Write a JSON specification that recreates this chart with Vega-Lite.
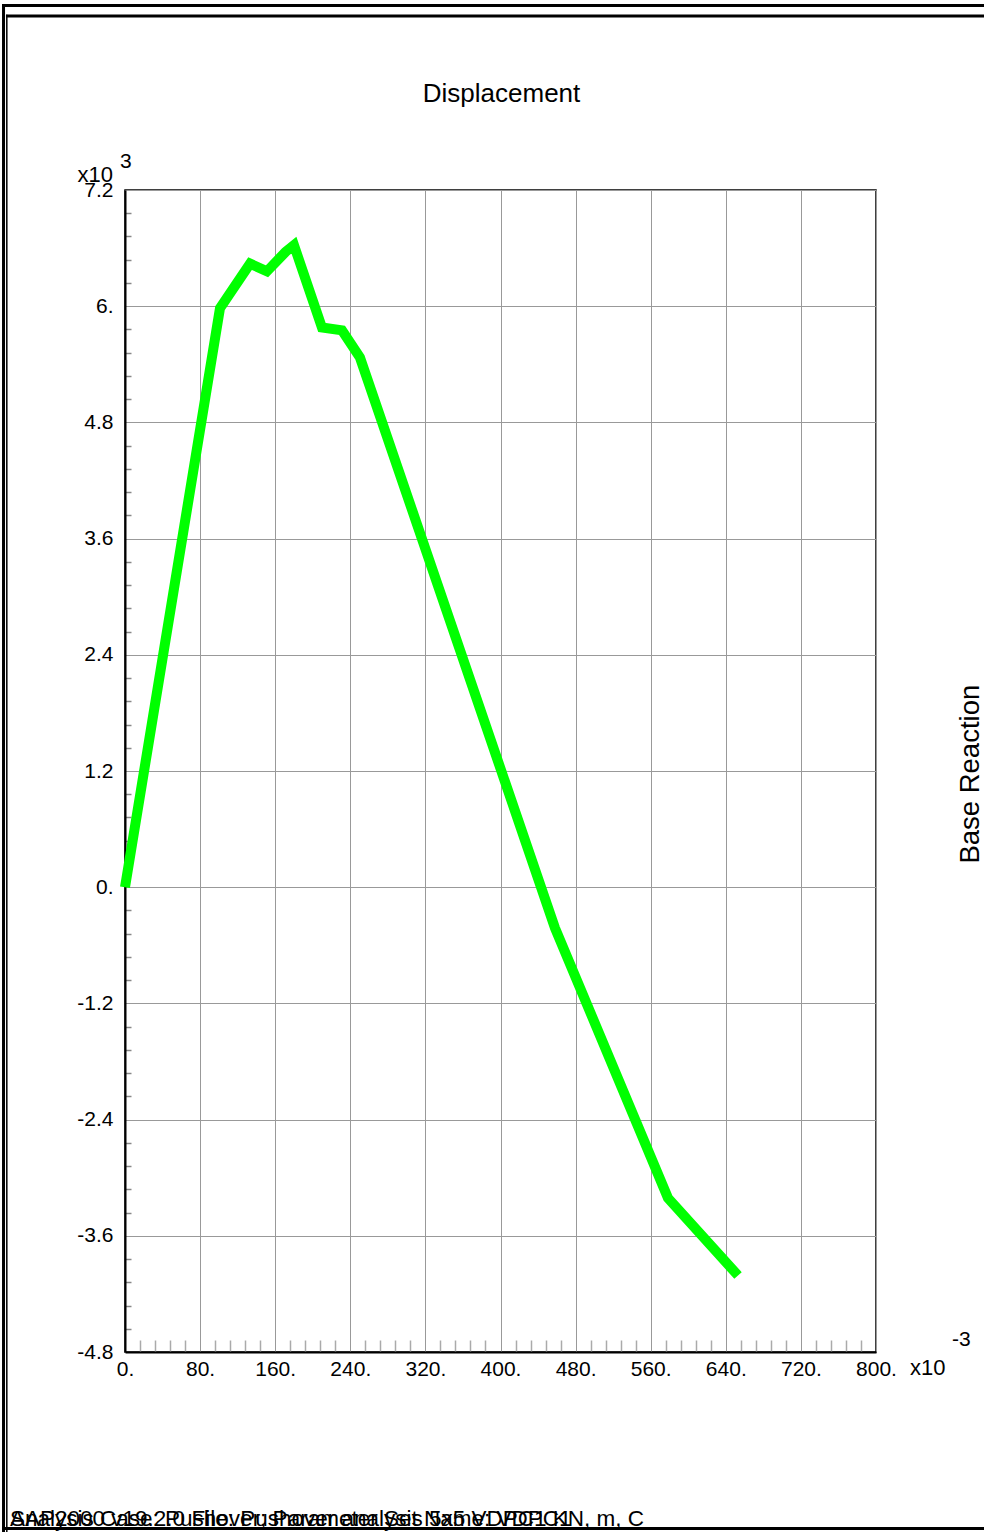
{
  "$schema": "https://vega.github.io/schema/vega-lite/v6.json",
  "width": 751,
  "height": 1162,
  "autosize": {"type": "none"},
  "padding": {"left": 125, "top": 190, "right": 108, "bottom": 180},
  "background": "white",
  "config": {
    "font": "Liberation Sans",
    "view": {"stroke": "black", "strokeWidth": 1.5},
    "text": {"font": "Liberation Sans", "color": "black"}
  },
  "datasets": {
    "curve": [
      {"displacement": 0, "reaction": 0},
      {"displacement": 101.2, "reaction": 5.98},
      {"displacement": 133.2, "reaction": 6.44},
      {"displacement": 151.2, "reaction": 6.36},
      {"displacement": 171.0, "reaction": 6.56},
      {"displacement": 180.0, "reaction": 6.63},
      {"displacement": 209.8, "reaction": 5.78},
      {"displacement": 231.2, "reaction": 5.75},
      {"displacement": 250.3, "reaction": 5.47},
      {"displacement": 458.0, "reaction": -0.42},
      {"displacement": 578.4, "reaction": -3.21},
      {"displacement": 653.0, "reaction": -4.01}
    ]
  },
  "data": {"name": "curve"},
  "layer": [
    {
      "mark": {"type": "point", "opacity": 0},
      "encoding": {
        "x": {
          "field": "displacement", "type": "quantitative",
          "scale": {"domain": [0, 800], "nice": false, "zero": false},
          "axis": {
            "orient": "bottom", "title": null, "labels": false, "domain": false, "grid": false,
            "ticks": true, "tickSize": -12, "tickColor": "#aaaaaa", "tickWidth": 1.5,
            "values": [16,32,48,64,96,112,128,144,176,192,208,224,256,272,288,304,336,352,368,384,416,432,448,464,496,512,528,544,576,592,608,624,656,672,688,704,736,752,768,784]
          }
        },
        "y": {
          "field": "reaction", "type": "quantitative",
          "scale": {"domain": [-4.8, 7.2], "nice": false, "zero": false},
          "axis": {
            "orient": "left", "title": null, "labels": false, "domain": false, "grid": false,
            "ticks": true, "tickSize": -6, "tickColor": "#888888", "tickWidth": 1.5,
            "values": [-4.56,-4.32,-4.08,-3.84,-3.36,-3.12,-2.88,-2.64,-2.16,-1.92,-1.68,-1.44,-0.96,-0.72,-0.48,-0.24,0.24,0.48,0.72,0.96,1.44,1.68,1.92,2.16,2.64,2.88,3.12,3.36,3.84,4.08,4.32,4.56,5.04,5.28,5.52,5.76,6.24,6.48,6.72,6.96]
          }
        }
      }
    },
    {
      "mark": {"type": "line", "color": "#00ff00", "strokeWidth": 10, "strokeJoin": "miter", "strokeCap": "butt"},
      "encoding": {
        "x": {
          "field": "displacement", "type": "quantitative",
          "axis": {
            "orient": "bottom", "title": null, "grid": true, "gridColor": "#999999", "gridWidth": 1,
            "ticks": false, "domainColor": "black", "domainWidth": 2,
            "labelFontSize": 21, "labelColor": "black", "labelPadding": 6, "labelFont": "Liberation Sans",
            "labelFlush": false, "labelOverlap": false,
            "values": [0,80,160,240,320,400,480,560,640,720,800],
            "labelExpr": "datum.value + (datum.value % 1 == 0 ? '.' : '')"
          }
        },
        "y": {
          "field": "reaction", "type": "quantitative",
          "axis": {
            "orient": "left", "title": null, "grid": true, "gridColor": "#999999", "gridWidth": 1,
            "ticks": false, "domainColor": "black", "domainWidth": 2,
            "labelFontSize": 21, "labelColor": "black", "labelPadding": 12, "labelFont": "Liberation Sans",
            "labelFlush": false, "labelOverlap": false,
            "values": [-4.8,-3.6,-2.4,-1.2,0,1.2,2.4,3.6,4.8,6,7.2],
            "labelExpr": "datum.value + (datum.value % 1 == 0 ? '.' : '')"
          }
        }
      }
    },
    {
      "data": {"values": [{}]},
      "mark": {"type": "text", "text": "Displacement", "align": "center", "baseline": "alphabetic", "fontSize": 26},
      "encoding": {"x": {"datum": 401.1, "axis": null}, "y": {"datum": 8.112, "axis": null}}
    },
    {
      "data": {"values": [{}]},
      "mark": {"type": "text", "text": "x10", "align": "right", "baseline": "alphabetic", "fontSize": 22},
      "encoding": {"x": {"datum": -12.8, "axis": null}, "y": {"datum": 7.283, "axis": null}}
    },
    {
      "data": {"values": [{}]},
      "mark": {"type": "text", "text": "3", "align": "left", "baseline": "alphabetic", "fontSize": 21},
      "encoding": {"x": {"datum": -5.3, "axis": null}, "y": {"datum": 7.427, "axis": null}}
    },
    {
      "data": {"values": [{}]},
      "mark": {"type": "text", "text": "x10", "align": "left", "baseline": "alphabetic", "fontSize": 22},
      "encoding": {"x": {"datum": 836.2, "axis": null}, "y": {"datum": -5.037, "axis": null}}
    },
    {
      "data": {"values": [{}]},
      "mark": {"type": "text", "text": "-3", "align": "left", "baseline": "alphabetic", "fontSize": 21},
      "encoding": {"x": {"datum": 881, "axis": null}, "y": {"datum": -4.74, "axis": null}}
    },
    {
      "data": {"values": [{}]},
      "mark": {"type": "text", "text": "Base Reaction", "align": "center", "baseline": "middle", "angle": 270, "fontSize": 27.5},
      "encoding": {"x": {"datum": 901.2, "axis": null}, "y": {"datum": 1.167, "axis": null}}
    },
    {
      "data": {"values": [{}]},
      "mark": {"type": "text", "text": "SAP2000 v19.2.0  File: Pushover analysis 5x5  VDPC1  KN, m, C", "align": "left", "baseline": "alphabetic", "fontSize": 22.5},
      "encoding": {"x": {"datum": -122.5, "axis": null}, "y": {"datum": -6.597, "axis": null}}
    },
    {
      "data": {"values": [{}]},
      "mark": {"type": "text", "text": "Analysis Case: Pushover; Parameter Set Name: VDPC1", "align": "left", "baseline": "alphabetic", "fontSize": 22.5},
      "encoding": {"x": {"datum": -122.5, "axis": null}, "y": {"datum": -6.597, "axis": null}}
    },
    {
      "data": {"values": [{}]},
      "mark": {"type": "rule", "color": "black", "strokeWidth": 3},
      "encoding": {"x": {"datum": -131, "axis": null}, "x2": {"datum": 915.2}, "y": {"datum": 9.105, "axis": null}}
    },
    {
      "data": {"values": [{}]},
      "mark": {"type": "rule", "color": "black", "strokeWidth": 3},
      "encoding": {"x": {"datum": -129.4, "axis": null}, "y": {"datum": 9.12, "axis": null}, "y2": {"datum": -6.7}}
    },
    {
      "data": {"values": [{}]},
      "mark": {"type": "rule", "color": "black", "strokeWidth": 3},
      "encoding": {"x": {"datum": -126.8, "axis": null}, "x2": {"datum": 915.2}, "y": {"datum": 8.997, "axis": null}}
    },
    {
      "data": {"values": [{}]},
      "mark": {"type": "rule", "color": "black", "strokeWidth": 1.5},
      "encoding": {"x": {"datum": -125.9, "axis": null}, "y": {"datum": 9.01, "axis": null}, "y2": {"datum": -6.7}}
    },
    {
      "data": {"values": [{}]},
      "mark": {"type": "rule", "color": "black", "strokeWidth": 3},
      "encoding": {"x": {"datum": -131, "axis": null}, "x2": {"datum": 915.2}, "y": {"datum": -6.623, "axis": null}}
    }
  ],
  "resolve": {"axis": {"x": "independent", "y": "independent"}}
}
